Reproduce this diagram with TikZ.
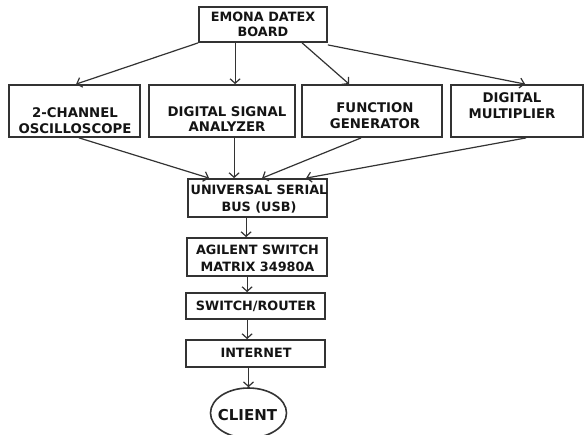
\documentclass[tikz,border=0pt]{standalone}
\usepackage{fontspec}
\setmainfont{DejaVu Sans}
\usetikzlibrary{arrows.meta,calc,shapes.geometric}
\definecolor{linec}{HTML}{333333}
\definecolor{textc}{HTML}{141414}
\begin{document}
\begin{tikzpicture}[x=1pt,y=-1pt,
  box/.style={draw=linec, line width=1.8pt, rectangle, inner sep=0pt},
  txt/.style={font=\fontsize{12.8}{15.5}\selectfont\bfseries, align=center, inner sep=0pt, text=textc},
  rowtxt/.style={txt, font=\fontsize{13.3}{15.5}\selectfont\bfseries},
  arr/.style={draw=linec, line width=1.2pt, -{Straight Barb[length=4.5pt,width=10pt]}}]
\useasboundingbox (0,0) rectangle (585,434);
\fill[white] (0,0) rectangle (585,434);
\clip (0,0) rectangle (585,434);
% boxes
\node[box, minimum width=128, minimum height=35] (emona) at (263,24.5) {};
\node[box, minimum width=131, minimum height=52] (osc) at (74.5,111) {};
\node[box, minimum width=146, minimum height=52] (dsa) at (222,111) {};
\node[box, minimum width=140, minimum height=52] (fg) at (372,111) {};
\node[box, minimum width=132, minimum height=52] (dm) at (517,111) {};
\node[box, minimum width=139, minimum height=38] (usb) at (257.5,198) {};
\node[box, minimum width=140, minimum height=38] (agil) at (257,257) {};
\node[box, minimum width=139, minimum height=26] (sw) at (255.5,306) {};
\node[box, minimum width=139, minimum height=27] (inet) at (255.5,353.5) {};
\node[draw=linec, line width=1.6pt, ellipse, inner sep=0pt, minimum width=76, minimum height=50] (client) at (248.5,413) {};
% texts
\node[txt] (temona) at (263,24.5) {EMONA DATEX\\BOARD};
\node[rowtxt] (tosc) at (75,120.5) {2-CHANNEL\\OSCILLOSCOPE};
\node[rowtxt] (tdsa) at (227,119) {DIGITAL SIGNAL\\ANALYZER};
\node[rowtxt] (tfg) at (375,115.5) {FUNCTION\\GENERATOR};
\node[rowtxt] (tdm) at (512,105.5) {DIGITAL\\MULTIPLIER};
\node[txt, font=\fontsize{12.8}{17}\selectfont\bfseries] (tusb) at (259,199) {UNIVERSAL SERIAL\\BUS (USB)};
\node[txt, font=\fontsize{12.8}{17}\selectfont\bfseries] (tagil) at (257.5,258.5) {AGILENT SWITCH\\MATRIX 34980A};
\node[txt] (tsw) at (256,306) {SWITCH/ROUTER};
\node[txt] (tinet) at (256,353) {INTERNET};
\node[txt, font=\fontsize{15}{18}\selectfont\bfseries] (tclient) at (247.5,415) {CLIENT};
% arrows from board
\draw[arr] (emona.south west) -- ([xshift=68pt]osc.north west);
\draw[arr] ([xshift=37pt]emona.south west) -- ([xshift=87pt]dsa.north west);
\draw[arr] ([xshift=104pt]emona.south west) -- ([xshift=48pt]fg.north west);
\draw[arr] ([yshift=-2pt]emona.south east) -- ([xshift=75pt]dm.north west);
% arrows to USB
\draw[arr] ([xshift=71pt]osc.south west) -- ([xshift=22pt]usb.north west);
\draw[arr] ([xshift=86pt]dsa.south west) -- ([xshift=47pt]usb.north west);
\draw[arr] ([xshift=60pt]fg.south west) -- ([xshift=75pt]usb.north west);
\draw[arr] ([xshift=76pt]dm.south west) -- ([xshift=119pt]usb.north west);
% chain
\draw[arr] ([xshift=59pt]usb.south west) -- ([xshift=60pt]agil.north west);
\draw[arr] ([xshift=61pt]agil.south west) -- ([xshift=62pt]sw.north west);
\draw[arr] ([xshift=62pt]sw.south west) -- ([xshift=62pt]inet.north west);
\draw[arr] (inet.south -| client.north) -- (client.north);
\end{tikzpicture}
\end{document}
